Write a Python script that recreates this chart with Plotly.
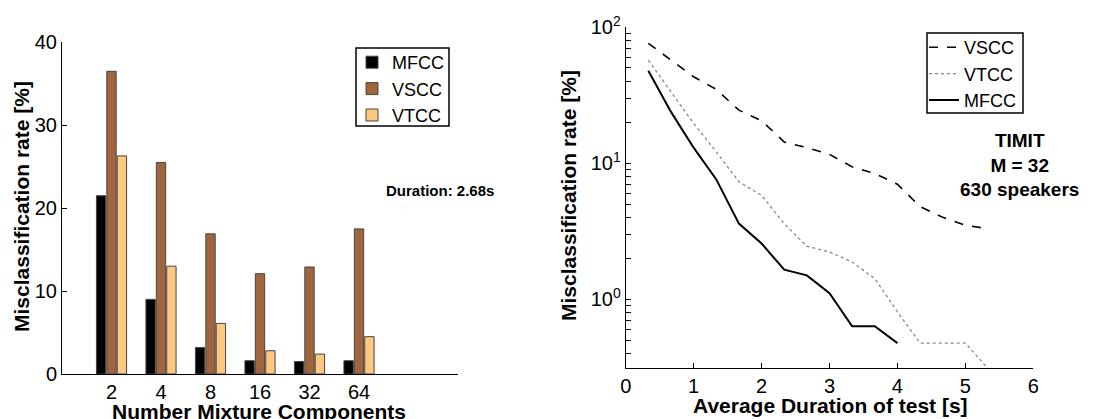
import plotly.graph_objects as go

# Left panel: misclassification vs. number of mixture components
mixtures = ["2", "4", "8", "16", "32", "64"]
mfcc_bar = [21.5, 9.0, 3.2, 1.6, 1.5, 1.6]
vscc_bar = [36.5, 25.5, 16.9, 12.1, 12.9, 17.5]
vtcc_bar = [26.3, 13.0, 6.1, 2.8, 2.4, 4.5]

# Right panel: misclassification vs. average test duration (TIMIT, M = 32)
dur_vscc = [1/3, 2/3, 1, 4/3, 5/3, 2, 7/3, 8/3, 3, 10/3, 11/3, 4, 13/3, 14/3, 5, 16/3]
rate_vscc = [75.9, 57.0, 43.1, 34.8, 24.5, 20.5, 14.3, 13.0, 11.6, 9.4, 8.4, 7.0, 4.8, 4.0, 3.5, 3.3]
dur_vtcc = [1/3, 2/3, 1, 4/3, 5/3, 2, 7/3, 8/3, 3, 10/3, 11/3, 4, 13/3, 14/3, 5, 16/3]
rate_vtcc = [57.0, 33.5, 19.6, 12.1, 7.3, 5.8, 3.6, 2.45, 2.23, 1.88, 1.42, 0.81, 0.477, 0.477, 0.477, 0.31]
dur_mfcc = [1/3, 2/3, 1, 4/3, 5/3, 2, 7/3, 8/3, 3, 10/3, 11/3, 4]
rate_mfcc = [47.7, 23.8, 13.0, 7.6, 3.6, 2.57, 1.65, 1.5, 1.11, 0.634, 0.634, 0.477]

FONT = "Liberation Sans, Arial, Helvetica, sans-serif"
BROWN = "#A0653F"
PEACH = "#FFC880"
W, H = 1116, 419

fig = go.Figure()

pos = list(range(1, len(mixtures) + 1))
for name, vals, col in [("MFCC", mfcc_bar, "#000000"),
                        ("VSCC", vscc_bar, BROWN),
                        ("VTCC", vtcc_bar, PEACH)]:
    fig.add_trace(go.Bar(
        x=pos, y=vals, name=name, marker_color=col,
        marker_line=dict(color="#444444", width=1),
        xaxis="x", yaxis="y", legend="legend",
    ))

fig.add_trace(go.Scatter(x=dur_vscc, y=rate_vscc, mode="lines", name="VSCC",
                         line=dict(color="black", width=1.6, dash="dash"),
                         xaxis="x2", yaxis="y2", legend="legend2"))
fig.add_trace(go.Scatter(x=dur_vtcc, y=rate_vtcc, mode="lines", name="VTCC",
                         line=dict(color="#888888", width=1.3, dash="dot"),
                         xaxis="x2", yaxis="y2", legend="legend2"))
fig.add_trace(go.Scatter(x=dur_mfcc, y=rate_mfcc, mode="lines", name="MFCC",
                         line=dict(color="black", width=2),
                         xaxis="x2", yaxis="y2", legend="legend2"))

# log-axis tick positions: decades labelled, 2..9 multiples as minor marks
decades = [0.1, 1, 10, 100]
log_tickvals, log_ticktext = [], []
for d in decades:
    for m in range(1, 10):
        v = d * m
        if 0.31 <= v <= 100:
            log_tickvals.append(v)
            if m == 1:
                exp = {0.1: "-1", 1: "0", 10: "1", 100: "2"}[d]
                log_ticktext.append(f"10<sup>{exp}</sup>")
            else:
                log_ticktext.append("")

axis_common = dict(showline=True, linecolor="black", linewidth=1, ticks="inside",
                   tickcolor="black", ticklen=5, showgrid=False, zeroline=False,
                   automargin=False,
                   tickfont=dict(family=FONT, size=20, color="black"))

def px_x(p):
    return p / W

def px_y(p):
    return 1 - p / H

fig.update_layout(
    width=W, height=H,
    margin=dict(l=0, r=0, t=0, b=0, autoexpand=False),
    paper_bgcolor="white", plot_bgcolor="white",
    font=dict(family=FONT, color="black"),
    barmode="group", bargap=0.37, bargroupgap=0.1,
    xaxis=dict(domain=[px_x(62), px_x(458)], range=[0, 8], tickvals=pos, ticktext=mixtures,
               anchor="y", **{**axis_common, "ticks": ""}),
    yaxis=dict(domain=[px_y(374), px_y(42.3)], range=[0, 40], tickvals=[0, 10, 20, 30, 40],
               anchor="x", **axis_common),
    xaxis2=dict(domain=[px_x(625.7), px_x(1033.3)], range=[0, 6], tickvals=[0, 1, 2, 3, 4, 5, 6],
                anchor="y2", **axis_common),
    yaxis2=dict(domain=[px_y(367.7), px_y(27)], type="log", range=[-0.502, 2],
                tickvals=log_tickvals, ticktext=log_ticktext, anchor="x2", **axis_common),
    legend=dict(x=px_x(352), y=px_y(44), xanchor="left", yanchor="top",
                borderwidth=0, bgcolor="rgba(0,0,0,0)",
                font=dict(family=FONT, size=18, color="black"),
                tracegroupgap=0, itemwidth=30),
    legend2=dict(x=px_x(924), y=px_y(29), xanchor="left", yanchor="top",
                 borderwidth=0, bgcolor="rgba(0,0,0,0)",
                 font=dict(family=FONT, size=18, color="black"),
                 tracegroupgap=0, itemwidth=30),
    showlegend=True,
)

# legend frames
for x0, y0, x1, y1 in [(356, 48, 449, 126), (927, 33, 1023, 113)]:
    fig.add_shape(type="rect", xref="paper", yref="paper",
                  x0=px_x(x0), x1=px_x(x1), y0=px_y(y1), y1=px_y(y0),
                  line=dict(color="black", width=1.5), layer="below")

def txt(x, y, text, size, angle=0):
    fig.add_annotation(x=px_x(x), y=px_y(y), xref="paper", yref="paper", text=f"<b>{text}</b>",
                       showarrow=False, textangle=angle, xanchor="center", yanchor="middle",
                       font=dict(family=FONT, size=size, color="black"))

txt(22, 207, "Misclassification rate [%]", 21, angle=-90)
txt(259, 411, "Number Mixture Components", 21)
txt(440, 190, "Duration: 2.68s", 15)
txt(569, 196, "Misclassification rate [%]", 21, angle=-90)
txt(830, 405, "Average Duration of test [s]", 21)
txt(1019, 165, "TIMIT<br>M = 32<br>630 speakers", 19)

fig.write_html("out.html")
